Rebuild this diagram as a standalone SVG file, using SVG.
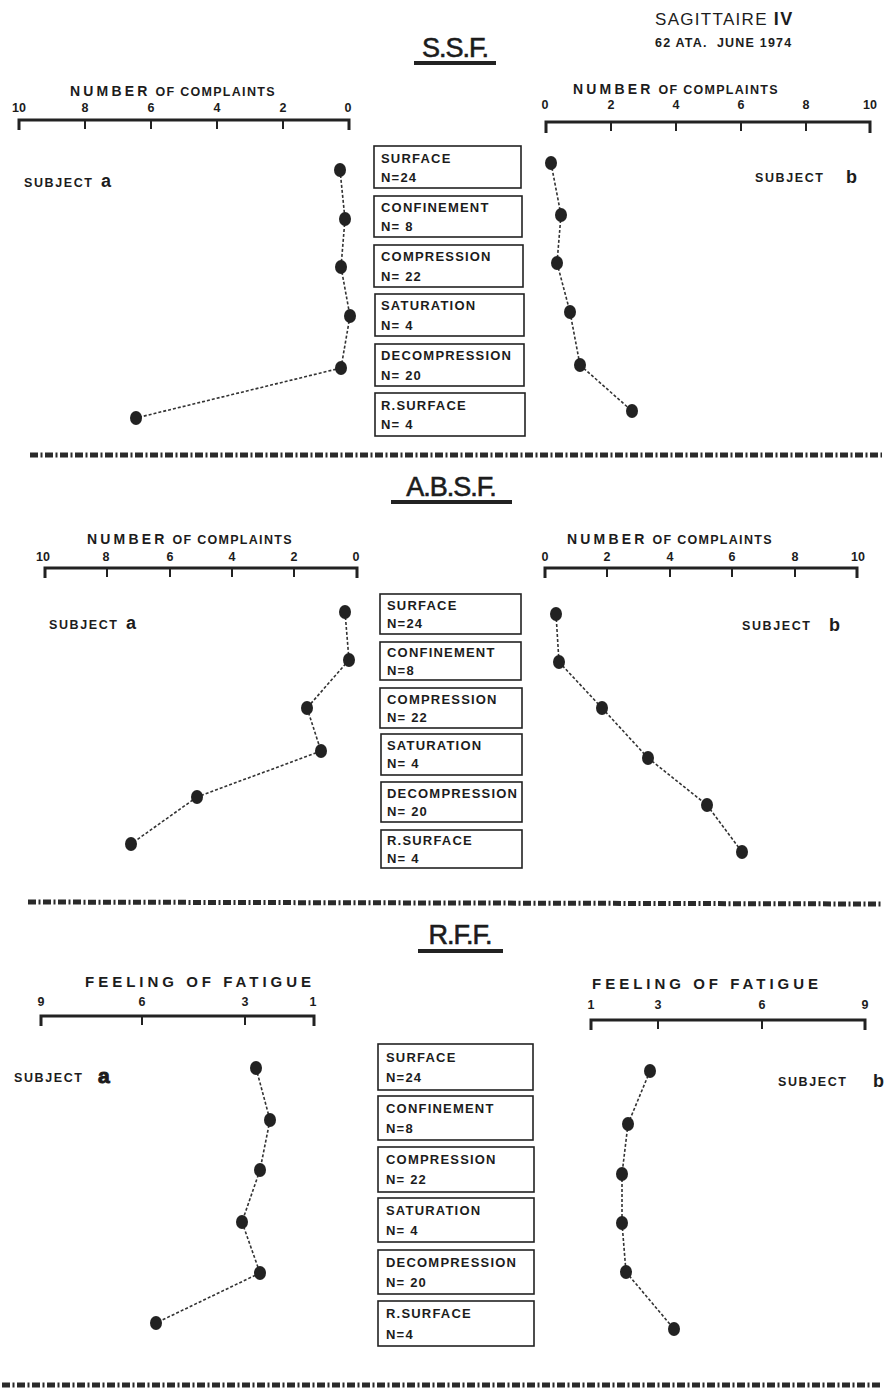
<svg xmlns="http://www.w3.org/2000/svg" width="889" height="1393" viewBox="0 0 889 1393">
<style>
text{font-family:"Liberation Sans",Arial,sans-serif;fill:#1c1c1c}
.title{font-size:27px;letter-spacing:-1px;stroke:#1c1c1c;stroke-width:0.6}
.ul{stroke:#222;stroke-width:4}
.axl{font-size:14px;font-weight:bold;letter-spacing:3.2px}
.axs{font-size:12.5px;font-weight:bold;letter-spacing:1.3px}
.num{font-size:12.5px;font-weight:bold;text-anchor:middle}
.axis{stroke:#222;stroke-width:3;fill:none}
.tick{stroke:#222;stroke-width:2}
.subj{font-size:12.5px;font-weight:bold;letter-spacing:1.6px}
.subjl{font-size:18px;font-weight:bold}
.fat{font-size:15px;font-weight:bold;letter-spacing:4px}
.box rect{fill:#fff;stroke:#222;stroke-width:1.6}
.box text{font-size:13px;font-weight:bold;letter-spacing:1.2px}
.conn line{stroke:#333;stroke-width:1.6;stroke-dasharray:3 2}
.dot{fill:#222}
.div{stroke:#2a2a2a;stroke-width:5;stroke-dasharray:8 2.5 2 2.5}
</style>

<!-- Header -->
<g id="header">
<text x="655" y="25" style="font-size:17px;letter-spacing:1.3px">SAGITTAIRE <tspan style="font-weight:bold;font-size:18px">IV</tspan></text>
<text x="655" y="47" xml:space="preserve" style="font-size:12.5px;font-weight:bold;letter-spacing:1.2px">62 ATA.  JUNE 1974</text>
</g>

<!-- ===== SSF ===== -->
<g id="ssf-title">
<text class="title" x="455" y="57" text-anchor="middle">S.S.F.</text>
<line class="ul" x1="414" y1="63" x2="496" y2="63"/>
</g>
<g id="ssf-axis-left">
<text x="70" y="96"><tspan class="axl">NUMBER</tspan><tspan class="axs"> OF COMPLAINTS</tspan></text>
<text class="num" x="19" y="112">10</text><text class="num" x="85" y="112">8</text><text class="num" x="151" y="112">6</text><text class="num" x="217" y="112">4</text><text class="num" x="283" y="112">2</text><text class="num" x="348" y="112">0</text>
<polyline class="axis" points="19,130 19,120 349,120 349,130"/>
<line class="tick" x1="85" y1="120" x2="85" y2="129"/><line class="tick" x1="151" y1="120" x2="151" y2="129"/><line class="tick" x1="217" y1="120" x2="217" y2="129"/><line class="tick" x1="283" y1="120" x2="283" y2="129"/>
</g>
<g id="ssf-axis-right">
<text x="573" y="94"><tspan class="axl">NUMBER</tspan><tspan class="axs"> OF COMPLAINTS</tspan></text>
<text class="num" x="545" y="109">0</text><text class="num" x="611" y="109">2</text><text class="num" x="676" y="109">4</text><text class="num" x="741" y="109">6</text><text class="num" x="806" y="109">8</text><text class="num" x="870" y="109">10</text>
<polyline class="axis" points="546,133 546,122 870,122 870,133"/>
<line class="tick" x1="611" y1="122" x2="611" y2="131"/><line class="tick" x1="676" y1="122" x2="676" y2="131"/><line class="tick" x1="741" y1="122" x2="741" y2="131"/><line class="tick" x1="806" y1="122" x2="806" y2="131"/>
</g>
<g id="ssf-subject-a"><text class="subj" x="24" y="187">SUBJECT</text><text class="subjl" x="101" y="187">a</text></g>
<g id="ssf-subject-b"><text class="subj" x="755" y="182">SUBJECT</text><text class="subjl" x="846" y="183">b</text></g>

<g id="ssf-surface" class="box"><rect x="374" y="146" width="147" height="42"/><text x="381" y="163">SURFACE</text><text x="381" y="182">N=24</text></g>
<g id="ssf-confinement" class="box"><rect x="374" y="196" width="148" height="41"/><text x="381" y="212">CONFINEMENT</text><text x="381" y="231">N= 8</text></g>
<g id="ssf-compression" class="box"><rect x="374" y="245" width="149" height="42"/><text x="381" y="261">COMPRESSION</text><text x="381" y="281">N= 22</text></g>
<g id="ssf-saturation" class="box"><rect x="375" y="294" width="149" height="42"/><text x="381" y="310">SATURATION</text><text x="381" y="330">N= 4</text></g>
<g id="ssf-decompression" class="box"><rect x="375" y="344" width="149" height="42"/><text x="381" y="360">DECOMPRESSION</text><text x="381" y="380">N= 20</text></g>
<g id="ssf-rsurface" class="box"><rect x="375" y="393" width="150" height="43"/><text x="381" y="410">R.SURFACE</text><text x="381" y="429">N= 4</text></g>

<g id="ssf-connectors" class="conn">
<line x1="340" y1="170" x2="345" y2="219"/><line x1="345" y1="219" x2="341" y2="267"/><line x1="341" y1="267" x2="350" y2="316"/><line x1="350" y1="316" x2="341" y2="368"/><line x1="341" y1="368" x2="136" y2="418"/>
<line x1="551" y1="163" x2="561" y2="215"/><line x1="561" y1="215" x2="557" y2="263"/><line x1="557" y1="263" x2="570" y2="312"/><line x1="570" y1="312" x2="580" y2="365"/><line x1="580" y1="365" x2="632" y2="411"/>
</g>
<g id="ssf-points-a"><ellipse class="dot" cx="340" cy="170" rx="6" ry="7"/><ellipse class="dot" cx="345" cy="219" rx="6" ry="7"/><ellipse class="dot" cx="341" cy="267" rx="6" ry="7"/><ellipse class="dot" cx="350" cy="316" rx="6" ry="7"/><ellipse class="dot" cx="341" cy="368" rx="6" ry="7"/><ellipse class="dot" cx="136" cy="418" rx="6" ry="7"/></g>
<g id="ssf-points-b"><ellipse class="dot" cx="551" cy="163" rx="6" ry="7"/><ellipse class="dot" cx="561" cy="215" rx="6" ry="7"/><ellipse class="dot" cx="557" cy="263" rx="6" ry="7"/><ellipse class="dot" cx="570" cy="312" rx="6" ry="7"/><ellipse class="dot" cx="580" cy="365" rx="6" ry="7"/><ellipse class="dot" cx="632" cy="411" rx="6" ry="7"/></g>

<line class="div" x1="30" y1="455" x2="882" y2="455"/>

<!-- ===== ABSF ===== -->
<g id="absf-title">
<text class="title" x="451" y="496" text-anchor="middle">A.B.S.F.</text>
<line class="ul" x1="391" y1="502" x2="512" y2="502"/>
</g>
<g id="absf-axis-left">
<text x="87" y="544"><tspan class="axl">NUMBER</tspan><tspan class="axs"> OF COMPLAINTS</tspan></text>
<text class="num" x="43" y="561">10</text><text class="num" x="106" y="561">8</text><text class="num" x="170" y="561">6</text><text class="num" x="232" y="561">4</text><text class="num" x="294" y="561">2</text><text class="num" x="356" y="561">0</text>
<polyline class="axis" points="45,578 45,568 357,568 357,578"/>
<line class="tick" x1="107" y1="568" x2="107" y2="577"/><line class="tick" x1="170" y1="568" x2="170" y2="577"/><line class="tick" x1="232" y1="568" x2="232" y2="577"/><line class="tick" x1="294" y1="568" x2="294" y2="577"/>
</g>
<g id="absf-axis-right">
<text x="567" y="544"><tspan class="axl">NUMBER</tspan><tspan class="axs"> OF COMPLAINTS</tspan></text>
<text class="num" x="545" y="561">0</text><text class="num" x="607" y="561">2</text><text class="num" x="670" y="561">4</text><text class="num" x="732" y="561">6</text><text class="num" x="795" y="561">8</text><text class="num" x="858" y="561">10</text>
<polyline class="axis" points="545,578 545,568 857,568 857,578"/>
<line class="tick" x1="607" y1="568" x2="607" y2="577"/><line class="tick" x1="670" y1="568" x2="670" y2="577"/><line class="tick" x1="732" y1="568" x2="732" y2="577"/><line class="tick" x1="795" y1="568" x2="795" y2="577"/>
</g>
<g id="absf-subject-a"><text class="subj" x="49" y="629">SUBJECT</text><text class="subjl" x="126" y="629">a</text></g>
<g id="absf-subject-b"><text class="subj" x="742" y="630">SUBJECT</text><text class="subjl" x="829" y="631">b</text></g>

<g id="absf-surface" class="box"><rect x="380" y="594" width="141" height="40"/><text x="387" y="610">SURFACE</text><text x="387" y="628">N=24</text></g>
<g id="absf-confinement" class="box"><rect x="380" y="642" width="141" height="38"/><text x="387" y="657">CONFINEMENT</text><text x="387" y="675">N=8</text></g>
<g id="absf-compression" class="box"><rect x="380" y="688" width="142" height="40"/><text x="387" y="704">COMPRESSION</text><text x="387" y="722">N= 22</text></g>
<g id="absf-saturation" class="box"><rect x="381" y="734" width="141" height="41"/><text x="387" y="750">SATURATION</text><text x="387" y="768">N= 4</text></g>
<g id="absf-decompression" class="box"><rect x="381" y="782" width="141" height="40"/><text x="387" y="798">DECOMPRESSION</text><text x="387" y="816">N= 20</text></g>
<g id="absf-rsurface" class="box"><rect x="381" y="830" width="141" height="38"/><text x="387" y="845">R.SURFACE</text><text x="387" y="863">N= 4</text></g>

<g id="absf-connectors" class="conn">
<line x1="345" y1="612" x2="349" y2="660"/><line x1="349" y1="660" x2="307" y2="708"/><line x1="307" y1="708" x2="321" y2="751"/><line x1="321" y1="751" x2="197" y2="797"/><line x1="197" y1="797" x2="131" y2="844"/>
<line x1="556" y1="614" x2="559" y2="662"/><line x1="559" y1="662" x2="602" y2="708"/><line x1="602" y1="708" x2="648" y2="758"/><line x1="648" y1="758" x2="707" y2="805"/><line x1="707" y1="805" x2="742" y2="852"/>
</g>
<g id="absf-points-a"><ellipse class="dot" cx="345" cy="612" rx="6" ry="7"/><ellipse class="dot" cx="349" cy="660" rx="6" ry="7"/><ellipse class="dot" cx="307" cy="708" rx="6" ry="7"/><ellipse class="dot" cx="321" cy="751" rx="6" ry="7"/><ellipse class="dot" cx="197" cy="797" rx="6" ry="7"/><ellipse class="dot" cx="131" cy="844" rx="6" ry="7"/></g>
<g id="absf-points-b"><ellipse class="dot" cx="556" cy="614" rx="6" ry="7"/><ellipse class="dot" cx="559" cy="662" rx="6" ry="7"/><ellipse class="dot" cx="602" cy="708" rx="6" ry="7"/><ellipse class="dot" cx="648" cy="758" rx="6" ry="7"/><ellipse class="dot" cx="707" cy="805" rx="6" ry="7"/><ellipse class="dot" cx="742" cy="852" rx="6" ry="7"/></g>

<line class="div" x1="28" y1="902" x2="882" y2="904"/>

<!-- ===== RFF ===== -->
<g id="rff-title">
<text class="title" x="460" y="944" text-anchor="middle">R.F.F.</text>
<line class="ul" x1="418" y1="951" x2="503" y2="951"/>
</g>
<g id="rff-axis-left">
<text class="fat" x="85" y="987">FEELING OF FATIGUE</text>
<text class="num" x="41" y="1006">9</text><text class="num" x="142" y="1006">6</text><text class="num" x="245" y="1006">3</text><text class="num" x="313" y="1006">1</text>
<polyline class="axis" points="41,1026 41,1016 314,1016 314,1026"/>
<line class="tick" x1="142" y1="1016" x2="142" y2="1025"/><line class="tick" x1="245" y1="1016" x2="245" y2="1025"/>
</g>
<g id="rff-axis-right">
<text class="fat" x="592" y="989">FEELING OF FATIGUE</text>
<text class="num" x="591" y="1009">1</text><text class="num" x="658" y="1009">3</text><text class="num" x="762" y="1009">6</text><text class="num" x="865" y="1009">9</text>
<polyline class="axis" points="591,1030 591,1020 865,1020 865,1030"/>
<line class="tick" x1="658" y1="1020" x2="658" y2="1029"/><line class="tick" x1="762" y1="1020" x2="762" y2="1029"/>
</g>
<g id="rff-subject-a"><text class="subj" x="14" y="1082">SUBJECT</text><text x="98" y="1083" style="font-size:21px;font-weight:900;stroke:#1c1c1c;stroke-width:1">a</text></g>
<g id="rff-subject-b"><text class="subj" x="778" y="1086">SUBJECT</text><text class="subjl" x="873" y="1087">b</text></g>

<g id="rff-surface" class="box"><rect x="378" y="1044" width="155" height="46"/><text x="386" y="1062">SURFACE</text><text x="386" y="1082">N=24</text></g>
<g id="rff-confinement" class="box"><rect x="378" y="1096" width="155" height="44"/><text x="386" y="1113">CONFINEMENT</text><text x="386" y="1133">N=8</text></g>
<g id="rff-compression" class="box"><rect x="378" y="1147" width="156" height="45"/><text x="386" y="1164">COMPRESSION</text><text x="386" y="1184">N= 22</text></g>
<g id="rff-saturation" class="box"><rect x="378" y="1198" width="156" height="44"/><text x="386" y="1215">SATURATION</text><text x="386" y="1235">N= 4</text></g>
<g id="rff-decompression" class="box"><rect x="378" y="1250" width="156" height="44"/><text x="386" y="1267">DECOMPRESSION</text><text x="386" y="1287">N= 20</text></g>
<g id="rff-rsurface" class="box"><rect x="378" y="1301" width="156" height="45"/><text x="386" y="1318">R.SURFACE</text><text x="386" y="1339">N=4</text></g>

<g id="rff-connectors" class="conn">
<line x1="256" y1="1068" x2="270" y2="1120"/><line x1="270" y1="1120" x2="260" y2="1170"/><line x1="260" y1="1170" x2="242" y2="1222"/><line x1="242" y1="1222" x2="260" y2="1273"/><line x1="260" y1="1273" x2="156" y2="1323"/>
<line x1="650" y1="1071" x2="628" y2="1124"/><line x1="628" y1="1124" x2="622" y2="1174"/><line x1="622" y1="1174" x2="622" y2="1223"/><line x1="622" y1="1223" x2="626" y2="1272"/><line x1="626" y1="1272" x2="674" y2="1329"/>
</g>
<g id="rff-points-a"><ellipse class="dot" cx="256" cy="1068" rx="6" ry="7"/><ellipse class="dot" cx="270" cy="1120" rx="6" ry="7"/><ellipse class="dot" cx="260" cy="1170" rx="6" ry="7"/><ellipse class="dot" cx="242" cy="1222" rx="6" ry="7"/><ellipse class="dot" cx="260" cy="1273" rx="6" ry="7"/><ellipse class="dot" cx="156" cy="1323" rx="6" ry="7"/></g>
<g id="rff-points-b"><ellipse class="dot" cx="650" cy="1071" rx="6" ry="7"/><ellipse class="dot" cx="628" cy="1124" rx="6" ry="7"/><ellipse class="dot" cx="622" cy="1174" rx="6" ry="7"/><ellipse class="dot" cx="622" cy="1223" rx="6" ry="7"/><ellipse class="dot" cx="626" cy="1272" rx="6" ry="7"/><ellipse class="dot" cx="674" cy="1329" rx="6" ry="7"/></g>

<line class="div" x1="2" y1="1385" x2="882" y2="1385"/>
</svg>
